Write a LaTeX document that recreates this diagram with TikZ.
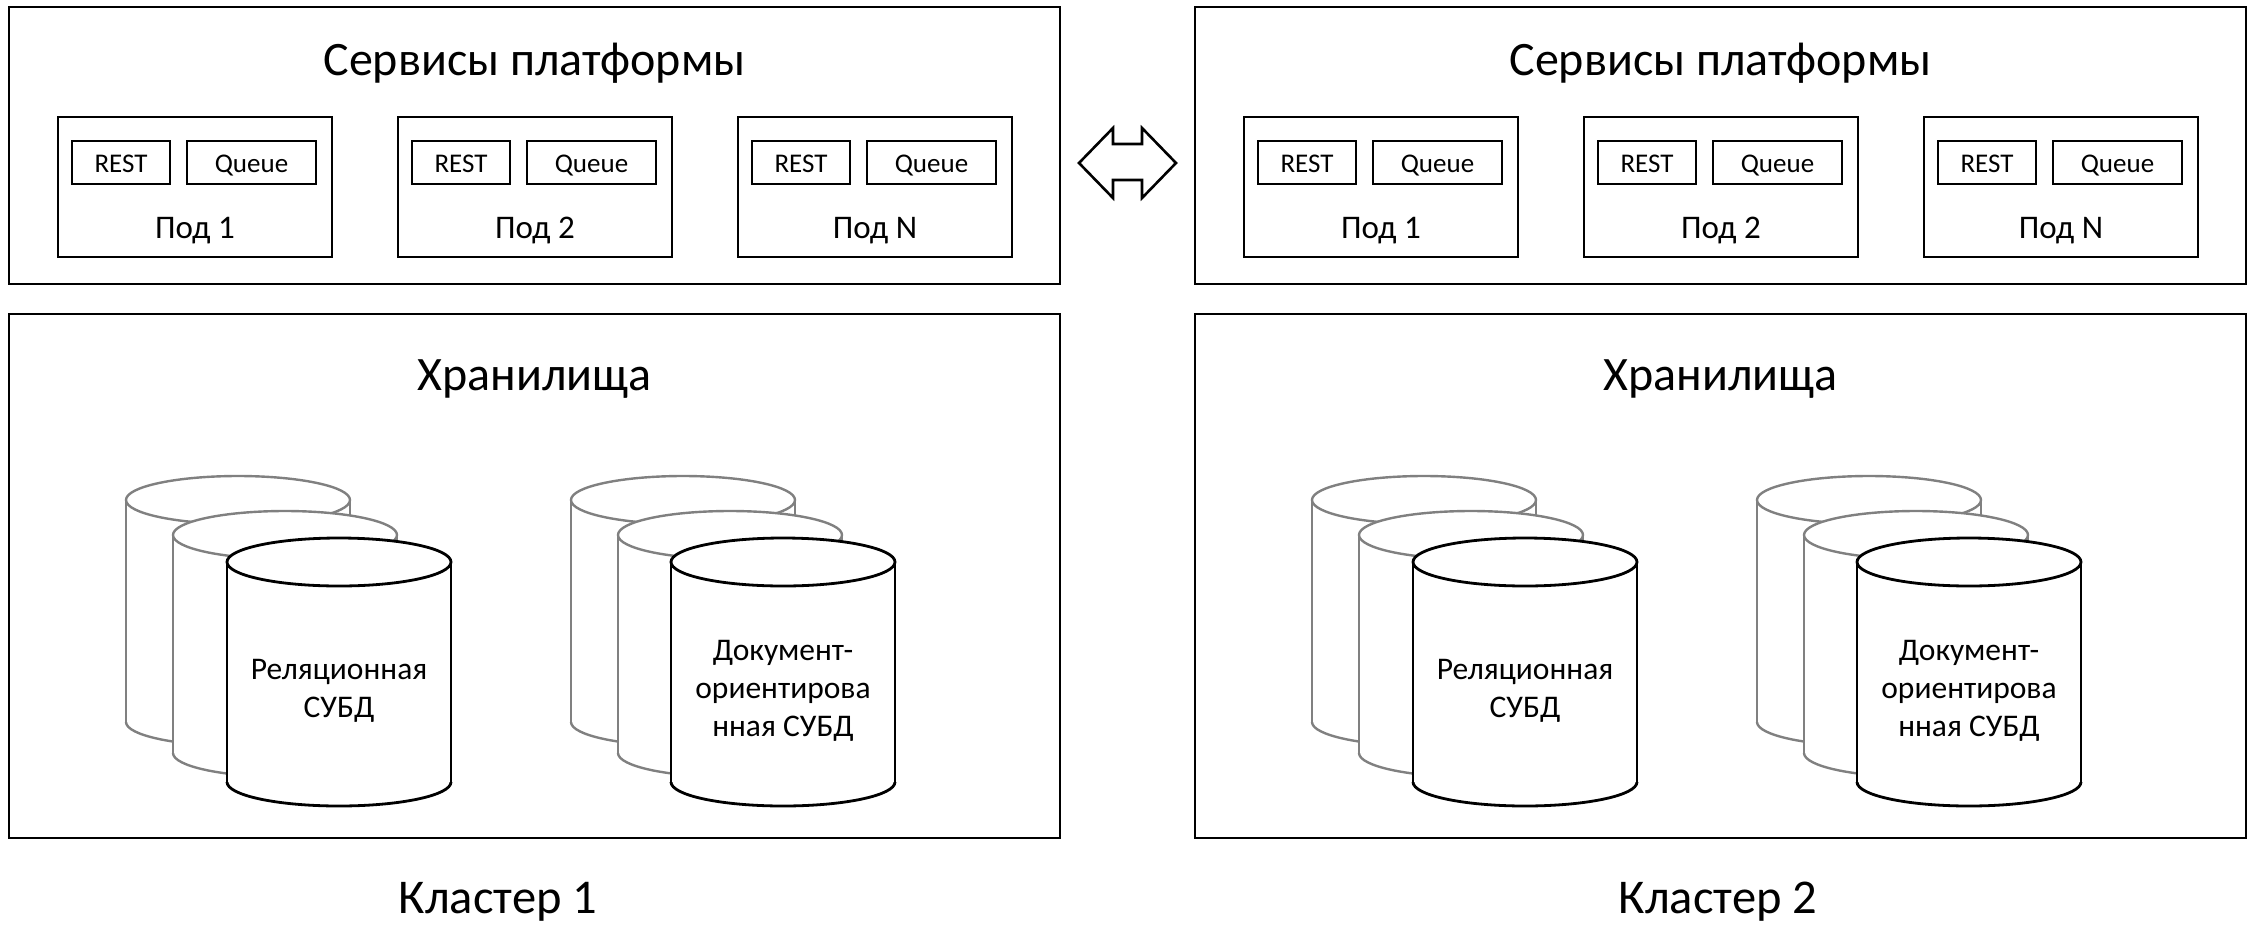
\documentclass[tikz,border=0pt]{standalone}
\usepackage{fontspec}
\setmainfont{Carlito}
\definecolor{cylgray}{HTML}{808080}
\newcommand\dbcyl[4]{%
  \fill[white] ({#1-112},#2) rectangle ({#1+112},#3);
  \fill[white] (#1,#3) ellipse [x radius=112, y radius=24];
  \draw[#4] ({#1-112},#2) -- ({#1-112},#3);
  \draw[#4] ({#1+112},#2) -- ({#1+112},#3);
  \begin{scope}
    \clip ({#1-130},#3) rectangle ({#1+130},{#3+40});
    \draw[#4] (#1,#3) ellipse [x radius=112, y radius=24];
  \end{scope}
  \draw[#4, fill=white] (#1,#2) ellipse [x radius=112, y radius=24];
}
\begin{document}
\begin{tikzpicture}[x=1pt,y=-1pt,
  bigbox/.style={draw=black, line width=2.8pt, minimum width=1051pt, inner sep=0pt},
  podbox/.style={draw=black, line width=2.6pt, minimum width=274pt, minimum height=140pt, inner sep=0pt},
  tagbox/.style={draw=black, line width=2.6pt, minimum height=43pt, inner sep=0pt,
    text height=19pt, text depth=0pt, font=\fontsize{27}{31}\selectfont},
  titletext/.style={font=\fontsize{48}{58}\selectfont, anchor=base, inner sep=0pt},
  podlabel/.style={font=\fontsize{33}{38}\selectfont, anchor=base, inner sep=0pt},
  dblabel/.style={font=\fontsize{31.5}{38}\selectfont, align=center, inner sep=0pt},
  clusterlabel/.style={font=\fontsize{48.5}{58}\selectfont, anchor=base, inner sep=0pt},
  cylback/.style={draw=cylgray, line width=2.4pt, line join=round},
  cylfront/.style={draw=black, line width=2.8pt, line join=round},
  arrowshape/.style={draw=black, line width=2.6pt, fill=white, line join=miter}
]
\useasboundingbox (0,0) rectangle (2252,924);

\foreach \dx/\n in {0/1, 1186/2} {
  % platform services
  \node[bigbox, minimum height=277pt] (svc\n) at ({534.5+\dx},145.5) {};
  \node[titletext] (svctitle\n) at ({534.5+\dx},75) {Сервисы платформы};
  \foreach \p/\lab in {0/1, 340/2, 680/N} {
    \node[podbox] (pod\n\lab) at ({195+\dx+\p},187) {};
    \node[tagbox, minimum width=98pt] (rest\n\lab) at ({121+\dx+\p},162.5) {REST};
    \node[tagbox, minimum width=129pt] (queue\n\lab) at ({251.5+\dx+\p},162.5) {Queue};
    \node[podlabel] (podlab\n\lab) at ({195+\dx+\p},238) {Под \lab};
  }
  % storages
  \node[bigbox, minimum height=524pt] (sto\n) at ({534.5+\dx},576) {};
  \node[titletext] (stotitle\n) at ({534.5+\dx},390) {Хранилища};
  % relational DB stack
  \dbcyl{238+\dx}{500}{722}{cylback}
  \dbcyl{285+\dx}{535}{753}{cylback}
  \dbcyl{339+\dx}{562}{782}{cylfront}
  \node[dblabel] (rel\n) at ({339+\dx},691) {Реляционная\\СУБД};
  % document DB stack
  \dbcyl{683+\dx}{500}{722}{cylback}
  \dbcyl{730+\dx}{535}{753}{cylback}
  \dbcyl{783+\dx}{562}{782}{cylfront}
  \node[dblabel] (doc\n) at ({783+\dx},691) {Документ-\\ориентирова\\нная СУБД};
}

\node[clusterlabel] (cl1) at (498,913) {Кластер 1};
\node[clusterlabel] (cl2) at (1718,913) {Кластер 2};

% double arrow between clusters
\draw[arrowshape] (1079,163) -- (1113,128) -- (1113,144) -- (1142,144) -- (1142,128)
  -- (1176,163) -- (1142,198) -- (1142,180) -- (1113,180) -- (1113,198) -- cycle;
\end{tikzpicture}
\end{document}
